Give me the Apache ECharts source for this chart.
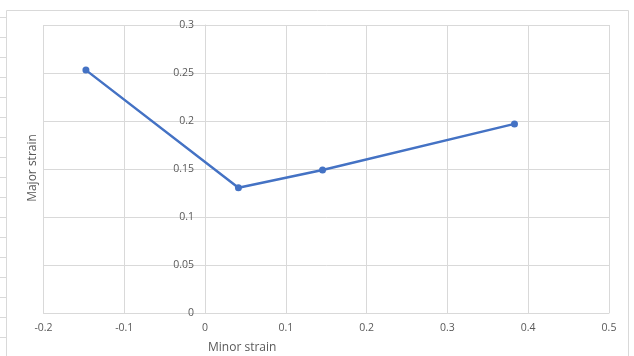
<!DOCTYPE html>
<html>
<head>
<meta charset="utf-8">
<script src="https://cdn.jsdelivr.net/npm/echarts@6/dist/echarts.min.js"></script>
<style>
  html, body { margin: 0; padding: 0; background: #fff; }
  #chart { width: 634px; height: 356px; }
</style>
</head>
<body>
<div id="chart"></div>
<script>
// Forming limit curve: minor strain vs. major strain
var minorStrain = [-0.1475, 0.0413, 0.1454, 0.383];
var majorStrain = [0.253, 0.1305, 0.149, 0.197];

var xTicks = { min: -0.2, max: 0.5, interval: 0.1 };
var yTicks = { min: 0, max: 0.3, interval: 0.05 };

var points = minorStrain.map(function (x, i) { return [x, majorStrain[i]]; });

var gridColor = '#d9d9d9';
var textColor = '#595959';
var fontFamily = '"Open Sans", "Noto Sans", sans-serif';

var W = 634, H = 356;
var grid = { left: 43.5, right: 25, top: 25, bottom: 43 };
// shift the vertical axis so it crosses the horizontal one at minor strain = 0
var plotWidth = W - grid.left - grid.right;
var yAxisShift = -(0 - xTicks.min) / (xTicks.max - xTicks.min) * plotWidth;

// sheet row lines peeking out left of the chart frame
var rowLines = [];
for (var y = 17.5; y < H; y += 20) {
  rowLines.push({
    type: 'line',
    shape: { x1: 0, y1: y, x2: 6, y2: y },
    style: { stroke: gridColor, lineWidth: 1 },
    silent: true
  });
}

var chart = echarts.init(document.getElementById('chart'), null, { renderer: 'canvas' });
chart.setOption({
  animation: false,
  backgroundColor: '#ffffff',
  grid: grid,
  xAxis: {
    type: 'value',
    min: xTicks.min,
    max: xTicks.max,
    interval: xTicks.interval,
    axisLine: { show: true, onZero: false, lineStyle: { color: gridColor, width: 1 } },
    axisTick: { show: false },
    axisLabel: { color: textColor, fontSize: 10.5, fontFamily: fontFamily, margin: 10 },
    splitLine: { show: true, lineStyle: { color: gridColor, width: 1 } }
  },
  yAxis: {
    type: 'value',
    position: 'left',
    offset: yAxisShift,
    min: yTicks.min,
    max: yTicks.max,
    interval: yTicks.interval,
    axisLine: { show: true, onZero: false, lineStyle: { color: gridColor, width: 1 } },
    axisTick: { show: true, length: 6, lineStyle: { color: gridColor } },
    axisLabel: { color: textColor, fontSize: 10.5, fontFamily: fontFamily, margin: 11 },
    splitLine: { show: true, lineStyle: { color: gridColor, width: 1 } }
  },
  series: [{
    type: 'line',
    data: points,
    symbol: 'circle',
    symbolSize: 7,
    lineStyle: { color: '#4472c4', width: 2.5 },
    itemStyle: { color: '#4472c4' }
  }],
  graphic: [
    {
      type: 'rect',
      shape: { x: 6.5, y: 10.5, width: 622, height: 360 },
      style: { fill: null, stroke: gridColor, lineWidth: 1 },
      silent: true,
      z: -1
    },
    {
      type: 'text',
      left: 208,
      top: 342,
      style: { text: 'Minor strain', fill: textColor, font: '12px ' + fontFamily }
    },
    {
      type: 'text',
      x: 33,
      y: 168,
      rotation: Math.PI / 2,
      style: {
        text: 'Major strain', fill: textColor, font: '12px ' + fontFamily,
        align: 'center', verticalAlign: 'middle'
      }
    }
  ].concat(rowLines)
});
</script>
</body>
</html>
